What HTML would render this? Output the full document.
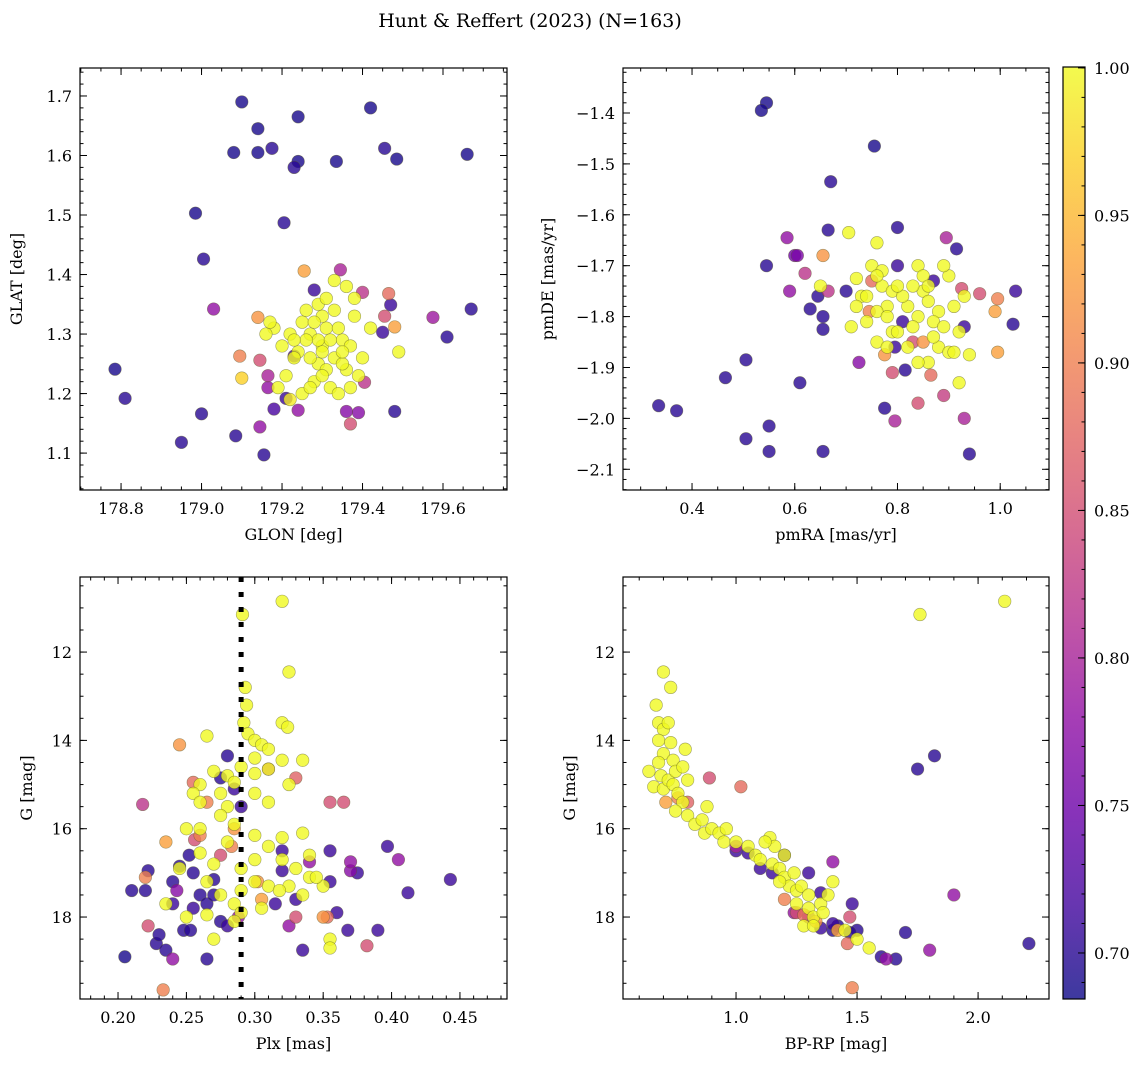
<!DOCTYPE html>
<html><head><meta charset="utf-8"><style>
html,body{margin:0;padding:0;background:#fff;}
svg text{font-family:"DejaVu Serif","Liberation Serif",serif;fill:#000;}
</style></head><body>
<svg id="fig" width="1148" height="1067" xmlns="http://www.w3.org/2000/svg">
<defs>
<linearGradient id="plasmaGrad" x1="0" y1="1" x2="0" y2="0">
<stop offset="0" stop-color="#0d0887"/><stop offset="0.1" stop-color="#41049d"/><stop offset="0.2" stop-color="#6a00a8"/><stop offset="0.3" stop-color="#8f0da4"/><stop offset="0.4" stop-color="#b12a90"/><stop offset="0.5" stop-color="#cc4778"/><stop offset="0.6" stop-color="#e16462"/><stop offset="0.7" stop-color="#f2844b"/><stop offset="0.8" stop-color="#fca636"/><stop offset="0.9" stop-color="#fcce25"/><stop offset="1" stop-color="#f0f921"/>
</linearGradient>
</defs>
<text x="530" y="27" font-size="19" text-anchor="middle">Hunt &amp; Reffert (2023) (N=163)</text>
</svg>
<script>
// ---- Panel 1: GLON vs GLAT ----
const p1x=[179.10,179.42,179.24,179.14,179.08,179.14,179.175,179.24,179.23,179.335,179.455,179.485,179.66,179.205,178.985,179.005,179.03,178.785,178.81,178.95,179.0,179.085,179.155,179.145,179.48,179.67,179.575,179.61,179.47,179.45,179.28,179.39,179.36,179.24,179.18,179.21,179.23,179.40,179.465,179.455,179.405,179.37,179.095,179.10,179.145,179.165,179.165,179.255,179.345,179.14,179.48,
179.27,179.30,179.25,179.33,179.29,179.35,179.31,179.22,179.18,179.16,179.20,179.24,179.28,179.32,179.36,179.37,179.38,179.36,179.33,179.30,179.26,179.23,179.21,179.19,179.25,179.34,179.40,179.42,179.49,179.29,179.30,179.27,179.32,179.34,179.26,179.31,179.28,179.23,179.35,179.37,179.38,179.22,179.27,179.33,179.17,179.29,179.31,179.35,179.39,179.30];
const p1y=[1.69,1.68,1.665,1.645,1.605,1.605,1.612,1.59,1.58,1.59,1.612,1.594,1.602,1.487,1.503,1.426,1.342,1.241,1.192,1.118,1.166,1.129,1.097,1.144,1.17,1.342,1.328,1.295,1.349,1.303,1.374,1.168,1.17,1.172,1.174,1.192,1.263,1.37,1.368,1.33,1.219,1.149,1.263,1.226,1.256,1.23,1.21,1.406,1.408,1.328,1.312,
1.30,1.28,1.32,1.26,1.25,1.29,1.31,1.30,1.31,1.30,1.28,1.27,1.22,1.21,1.24,1.28,1.36,1.38,1.39,1.33,1.34,1.26,1.23,1.21,1.20,1.20,1.26,1.31,1.27,1.29,1.27,1.26,1.29,1.31,1.29,1.24,1.32,1.29,1.25,1.21,1.33,1.19,1.21,1.34,1.32,1.35,1.36,1.27,1.23,1.23];
const p1c=[0.69,0.69,0.69,0.69,0.69,0.69,0.70,0.69,0.70,0.69,0.70,0.69,0.69,0.70,0.69,0.70,0.78,0.69,0.70,0.70,0.70,0.70,0.70,0.78,0.70,0.70,0.79,0.70,0.71,0.71,0.71,0.77,0.77,0.78,0.72,0.71,0.72,0.82,0.88,0.85,0.82,0.85,0.90,0.97,0.85,0.80,0.78,0.93,0.80,0.92,0.93,
1,1,1,1,1,1,1,1,1,1,1,1,1,1,1,1,1,1,1,1,1,1,1,1,1,1,1,1,1,1,1,1,1,1,1,1,1,1,1,1,1,0.99,1,1,1,1,1,1,1,1];
// ---- Panel 2: pmRA vs pmDE ----
const p2x=[0.545,0.535,0.755,0.67,0.665,0.80,0.915,0.545,0.645,0.70,0.63,0.655,0.655,0.61,0.505,0.465,0.335,0.37,0.505,0.55,0.55,0.655,0.775,0.815,0.94,1.025,1.03,0.93,0.80,0.81,0.795,0.87,
0.585,0.60,0.605,0.59,0.62,0.745,0.725,0.75,0.84,0.795,0.79,0.865,0.89,0.93,0.895,0.925,0.96,0.995,0.99,0.995,0.655,0.775,0.85,0.83,0.665,
0.705,0.76,0.72,0.65,0.75,0.77,0.73,0.78,0.76,0.79,0.74,0.71,0.76,0.79,0.82,0.84,0.85,0.83,0.86,0.88,0.84,0.87,0.90,0.89,0.91,0.92,0.88,0.90,0.86,0.92,0.94,0.80,0.82,0.78,0.83,0.81,0.74,0.72,0.84,0.85,0.77,0.87,0.93,0.89,0.76,0.80,0.78,0.86,0.91];
const p2y=[-1.38,-1.395,-1.465,-1.535,-1.63,-1.625,-1.667,-1.70,-1.76,-1.75,-1.785,-1.80,-1.825,-1.93,-1.885,-1.92,-1.975,-1.985,-2.04,-2.015,-2.065,-2.065,-1.98,-1.905,-2.07,-1.815,-1.75,-1.82,-1.70,-1.81,-1.86,-1.73,
-1.645,-1.68,-1.68,-1.75,-1.715,-1.79,-1.89,-1.73,-1.97,-2.005,-1.91,-1.915,-1.955,-2.0,-1.645,-1.745,-1.755,-1.765,-1.79,-1.87,-1.68,-1.875,-1.85,-1.85,-1.75,
-1.635,-1.655,-1.725,-1.74,-1.70,-1.74,-1.76,-1.78,-1.79,-1.75,-1.81,-1.82,-1.85,-1.83,-1.78,-1.70,-1.75,-1.74,-1.77,-1.79,-1.80,-1.81,-1.72,-1.70,-1.78,-1.83,-1.86,-1.87,-1.89,-1.93,-1.875,-1.83,-1.86,-1.86,-1.82,-1.76,-1.76,-1.78,-1.89,-1.72,-1.71,-1.84,-1.76,-1.82,-1.72,-1.74,-1.80,-1.74,-1.87];
const p2c=[0.69,0.69,0.69,0.70,0.70,0.70,0.70,0.70,0.70,0.70,0.70,0.70,0.70,0.70,0.70,0.70,0.70,0.70,0.70,0.70,0.70,0.70,0.70,0.70,0.70,0.70,0.71,0.71,0.71,0.71,0.71,0.71,
0.78,0.75,0.76,0.78,0.82,0.90,0.77,0.88,0.85,0.80,0.85,0.88,0.83,0.80,0.80,0.85,0.85,0.90,0.93,0.93,0.92,0.92,0.92,0.85,0.82,
1,1,1,1,1,1,1,1,1,1,1,1,1,1,1,1,1,1,1,1,1,1,1,1,1,1,1,1,1,1,1,1,1,1,1,1,1,1,1,1,1,1,1,1,1,1,1,1,1];
// ---- Panel 3: Plx vs G ----
const p3x=[0.32,0.291,0.325,0.293,0.294,0.292,0.295,0.32,0.324,0.3,0.305,0.31,0.265,0.335,0.32,0.3,0.29,0.31,0.27,0.28,0.3,0.285,0.26,0.255,0.26,0.275,0.28,0.275,0.285,0.31,0.325,0.3,0.25,0.26,0.28,0.3,0.31,0.32,0.335,0.34,0.33,0.35,0.34,0.32,0.3,0.29,0.27,0.26,0.245,0.265,0.275,0.285,0.29,0.29,0.31,0.325,0.335,0.285,0.305,0.355,0.355,0.345,0.265,0.27,0.235,0.25,0.318,0.3,
0.245,0.255,0.265,0.235,0.26,0.285,0.283,0.275,0.33,0.31,0.302,0.305,0.33,0.35,0.353,0.22,0.233,0.222,0.218,0.355,0.365,0.382,0.256,
0.24,0.34,0.37,0.405,0.325,0.288,0.243,0.37,
0.205,0.21,0.22,0.222,0.228,0.23,0.235,0.24,0.245,0.248,0.252,0.255,0.253,0.26,0.265,0.265,0.27,0.27,0.275,0.275,0.28,0.285,0.29,0.32,0.32,0.33,0.335,0.355,0.355,0.36,0.368,0.375,0.39,0.397,0.412,0.443,0.315,0.28,0.24,0.255];
const p3y=[10.85,11.15,12.45,12.8,13.2,13.6,13.85,13.6,13.7,14.0,14.1,14.2,13.9,14.45,14.45,14.4,14.6,14.65,14.7,14.8,14.75,14.95,15.0,15.2,15.4,15.2,15.5,15.7,15.9,15.4,15.0,15.2,16.0,16.0,16.3,16.15,16.4,16.2,16.1,16.6,16.9,17.3,17.1,16.7,16.7,16.9,16.8,16.55,16.9,17.2,17.5,17.7,17.4,17.9,17.3,17.3,17.5,18.1,17.8,18.5,18.7,17.1,17.95,18.5,17.7,18.0,17.4,17.2,
14.1,14.95,15.4,16.3,16.15,16.0,16.4,16.6,14.85,14.65,17.2,17.6,18.0,18.0,18.0,17.1,19.65,18.2,15.45,15.4,15.4,18.65,16.25,
18.95,16.75,16.75,16.7,18.2,18.0,17.4,16.95,
18.9,17.4,17.4,16.95,18.6,18.4,18.75,17.2,16.85,18.3,16.6,17.0,18.3,17.5,17.7,18.95,17.15,17.5,18.1,14.85,14.35,15.1,15.5,16.5,16.95,17.6,18.75,16.5,17.2,17.9,18.3,17.0,18.3,16.4,17.45,17.15,17.7,18.2,17.7,17.8];
const p3c=[1,1,1,1,1,1,1,1,1,1,1,1,1,1,1,1,1,1,1,1,1,1,1,1,1,1,1,1,1,1,1,1,1,1,1,1,1,1,1,1,1,1,1,1,1,1,1,1,1,1,1,1,1,1,1,1,1,1,1,1,1,1,1,1,1,1,1,1,
0.92,0.88,0.90,0.93,0.90,0.92,0.90,0.85,0.87,0.82,0.92,0.93,0.85,0.92,0.88,0.90,0.90,0.85,0.82,0.85,0.85,0.85,0.85,
0.78,0.78,0.78,0.78,0.78,0.78,0.77,0.77,
0.69,0.70,0.70,0.70,0.70,0.70,0.70,0.70,0.70,0.70,0.70,0.70,0.70,0.70,0.70,0.70,0.70,0.70,0.70,0.70,0.70,0.71,0.71,0.71,0.71,0.71,0.71,0.71,0.71,0.71,0.71,0.71,0.71,0.71,0.71,0.71,0.71,0.71,0.71,0.71];
// ---- Panel 4: BP-RP vs G ----
const p4x=[0.64,0.66,0.67,0.7,0.73,0.68,0.7,0.72,0.68,0.7,0.73,0.74,0.68,0.69,0.7,0.72,0.74,0.75,0.76,0.78,0.79,0.8,0.78,0.75,0.8,0.83,0.86,0.88,0.87,0.9,0.93,0.96,0.95,1.0,1.05,1.08,1.1,1.14,1.16,1.15,1.18,1.2,1.22,1.25,1.27,1.3,1.25,1.3,1.32,1.35,1.28,1.32,1.38,1.4,1.45,1.5,1.55,1.24,1.2,1.12,1.76,2.11,1.36,1.18,
0.71,0.76,1.02,0.89,1.25,1.28,1.47,1.46,1.48,1.42,1.2,1.33,0.8,
1.4,1.8,1.9,1.62,1.0,1.24,1.3,
1.75,1.82,2.21,1.7,1.66,1.6,1.5,1.47,1.42,1.4,1.3,1.35,1.48,1.2,1.1,1.0,1.05,1.15,1.4,1.35];
const p4y=[14.7,15.05,13.2,12.45,12.8,13.6,13.75,13.6,14.0,14.3,14.05,14.45,14.5,14.8,15.1,14.9,15.0,14.7,15.2,14.6,14.2,14.9,15.4,15.6,15.7,15.9,15.8,15.5,16.1,16.0,16.1,16.0,16.3,16.3,16.4,16.6,16.7,16.2,16.4,16.8,16.9,17.1,17.3,17.4,17.3,17.5,17.7,17.8,18.0,17.7,18.2,18.2,17.5,17.2,18.3,18.5,18.7,17.0,16.6,16.3,11.15,10.85,17.9,17.2,
15.4,15.3,15.05,14.85,17.9,17.95,18.0,18.6,19.6,18.3,17.6,18.1,15.4,
16.75,18.75,17.5,18.95,16.4,17.9,18.0,
14.65,14.35,18.6,18.35,18.95,18.9,18.3,18.35,18.2,18.3,17.0,17.45,17.7,16.6,16.9,16.5,16.55,17.0,18.15,18.25];
const p4c=[1,1,1,1,1,1,1,1,1,1,1,1,1,1,1,1,1,1,1,1,1,1,1,1,1,1,1,1,1,1,1,1,1,1,1,1,1,1,1,1,1,1,1,1,1,1,1,1,1,1,1,1,1,1,1,1,1,1,1,1,1,1,1,1,
0.93,0.90,0.88,0.85,0.85,0.88,0.85,0.88,0.90,0.93,0.90,0.92,0.87,
0.78,0.78,0.78,0.78,0.80,0.78,0.80,
0.70,0.70,0.70,0.70,0.70,0.70,0.70,0.70,0.70,0.70,0.71,0.71,0.71,0.71,0.71,0.71,0.71,0.71,0.71,0.71];
const plxLine=[0.29];
const cbTicks=[0.70,0.75,0.80,0.85,0.90,0.95,1.00];
const cbLabels=["0.70","0.75","0.80","0.85","0.90","0.95","1.00"];

const NS='http://www.w3.org/2000/svg';
const svg=document.getElementById('fig');
const VMIN=0.684,VMAX=1.0;
const stops=[[13,8,135],[65,4,157],[106,0,168],[143,13,164],[177,42,144],[204,71,120],[225,100,98],[242,132,75],[252,166,54],[252,206,37],[240,249,33]];
function cmap(v){let t=(v-VMIN)/(VMAX-VMIN);t=Math.max(0,Math.min(1,t));const f=t*10;const i=Math.min(9,Math.floor(f));const r=f-i;const a=stops[i],b=stops[i+1];return 'rgb('+a.map((x,k)=>Math.round(x+(b[k]-x)*r)).join(',')+')';}
function mk(tag,attrs,parent){const e=document.createElementNS(NS,tag);for(const k in attrs)e.setAttribute(k,attrs[k]);(parent||svg).appendChild(e);return e;}
function lin(d0,d1,r0,r1){return v=>r0+(v-d0)*(r1-r0)/(d1-d0);}
function ticks(a0,b0,step){const a=Math.min(a0,b0),b=Math.max(a0,b0);const out=[];const s=Math.ceil(a/step-1e-9);for(let i=s;i*step<=b+1e-9;i++)out.push(+(i*step).toFixed(6));return out;}

function panel(o){
  const g=mk('g',{});
  
  
  const sx=lin(o.xd[0],o.xd[1],o.L,o.R), sy=lin(o.yd[0],o.yd[1],o.B,o.T);
  const pg=mk('g',{},g);
  
  
  const idx=o.x.map((_,i)=>i).sort((a,b)=>o.c[a]-o.c[b]);
  idx.forEach(i=>{
    const c=mk('circle',{cx:sx(o.x[i]),cy:sy(o.y[i]),r:6.3,fill:cmap(o.c[i]),'fill-opacity':0.8,stroke:'rgba(90,90,40,0.55)','stroke-width':0.6},pg);
    
    
  });
  if(o.extra)o.extra(g,sx,sy);
  const fr=mk('rect',{x:o.L,y:o.T,width:o.R-o.L,height:o.B-o.T,fill:'none',stroke:'#000','stroke-width':1.2},g);
  
  
  const tg=mk('g',{stroke:'#000','stroke-width':1},g);
  ticks(o.xd[0],o.xd[1],o.xmin).forEach(v=>{const X=sx(v);mk('line',{x1:X,x2:X,y1:o.B,y2:o.B-3.5},tg);mk('line',{x1:X,x2:X,y1:o.T,y2:o.T+3.5},tg);});
  ticks(o.yd[0],o.yd[1],o.ymin).forEach(v=>{const Y=sy(v);mk('line',{x1:o.L,x2:o.L+3.5,y1:Y,y2:Y},tg);mk('line',{x1:o.R,x2:o.R-3.5,y1:Y,y2:Y},tg);});
  ticks(o.xd[0],o.xd[1],o.xmaj).forEach(v=>{const X=sx(v);mk('line',{x1:X,x2:X,y1:o.B,y2:o.B-7},tg);mk('line',{x1:X,x2:X,y1:o.T,y2:o.T+7},tg);
    const t=mk('text',{x:X,y:o.B+24,'font-size':16,'text-anchor':'middle'},g);t.textContent=v.toFixed(o.xdec).replace('-','\u2212');
    });
  ticks(o.yd[0],o.yd[1],o.ymaj).forEach(v=>{const Y=sy(v);mk('line',{x1:o.L,x2:o.L+7,y1:Y,y2:Y},tg);mk('line',{x1:o.R,x2:o.R-7,y1:Y,y2:Y},tg);
    const t=mk('text',{x:o.L-8,y:Y+6,'font-size':16,'text-anchor':'end'},g);t.textContent=v.toFixed(o.ydec).replace('-','\u2212');
    });
  const xt=mk('text',{x:(o.L+o.R)/2,y:o.B+50,'font-size':16,'text-anchor':'middle'},g);xt.textContent=o.xl;
  
  const yx=o.L-o.yoff,yy=(o.T+o.B)/2;
  const yt=mk('text',{x:yx,y:yy,'font-size':16,'text-anchor':'middle',transform:'rotate(-90 '+yx+' '+yy+')'},g);yt.textContent=o.yl;
  
}
panel({name:'glon-glat-panel',x:p1x,y:p1y,c:p1c,L:80,R:507,T:68,B:490,xd:[178.698,179.759],yd:[1.038,1.747],xmaj:0.2,xmin:0.05,ymaj:0.1,ymin:0.02,xdec:1,ydec:1,xl:'GLON [deg]',yl:'GLAT [deg]',yoff:58});
panel({name:'pm-panel',x:p2x,y:p2y,c:p2c,L:623,R:1049,T:68,B:490,xd:[0.2656,1.095],yd:[-2.1407,-1.3116],xmaj:0.2,xmin:0.05,ymaj:0.1,ymin:0.02,xdec:1,ydec:1,xl:'pmRA [mas/yr]',yl:'pmDE [mas/yr]',yoff:70});
panel({name:'plx-g-panel',x:p3x,y:p3y,c:p3c,L:80,R:507,T:577,B:999,xd:[0.1722,0.4844],yd:[19.856,10.30],xmaj:0.05,xmin:0.01,ymaj:2,ymin:0.5,xdec:2,ydec:0,xl:'Plx [mas]',yl:'G [mag]',yoff:48,
  extra:(g,sx,sy)=>{plxLine.forEach(v=>{const l=mk('line',{x1:sx(v),x2:sx(v),y1:577,y2:999,stroke:'#000','stroke-width':5,'stroke-dasharray':'5 10'},g);
    });}});
panel({name:'cmd-panel',x:p4x,y:p4y,c:p4c,L:623,R:1049,T:577,B:999,xd:[0.533,2.293],yd:[19.856,10.30],xmaj:0.5,xmin:0.1,ymaj:2,ymin:0.5,xdec:1,ydec:0,xl:'BP-RP [mag]',yl:'G [mag]',yoff:48});

// colorbar
const cb=mk('g',{});


const cT=67,cB=999,cL=1063,cR=1085;
const cy=lin(0.6844,1.0003,cB,cT);
mk('rect',{x:cL,y:cT,width:cR-cL,height:cB-cT,fill:'url(#plasmaGrad)','fill-opacity':0.8},cb);
mk('rect',{x:cL,y:cT,width:cR-cL,height:cB-cT,fill:'none',stroke:'#000','stroke-width':1.2},cb);
ticks(0.6844,1.0003,0.01).forEach(v=>mk('line',{x1:cR,x2:cR-3.5,y1:cy(v),y2:cy(v),stroke:'#000'},cb));
cbTicks.forEach((v,i)=>{const Y=cy(v);mk('line',{x1:cR,x2:cR-7,y1:Y,y2:Y,stroke:'#000'},cb);
  const t=mk('text',{x:cR+9,y:Y+6,'font-size':16},cb);t.textContent=cbLabels[i];
  });
</script>
</body></html>
